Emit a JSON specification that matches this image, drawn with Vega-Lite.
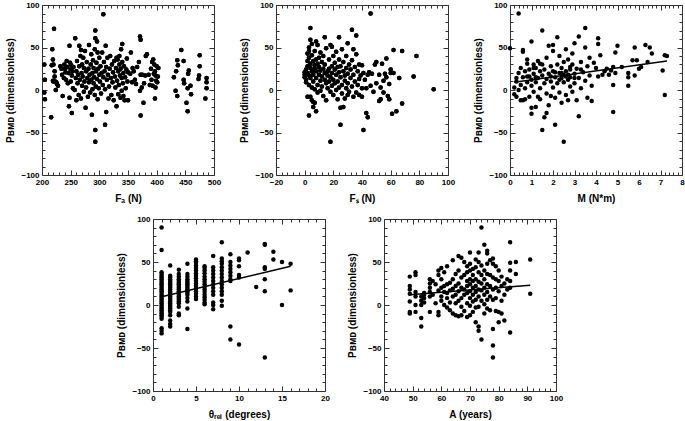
{
"$schema":"https://vega.github.io/schema/vega-lite/v6.json",
"padding":{"left":5,"top":0,"right":1,"bottom":2},
"config":{
 "font":"Liberation Sans",
 "view":{"stroke":"#333","strokeWidth":1},
 "axis":{"domain":false,"grid":false,"labelFont":"Liberation Sans","labelFontWeight":"bold","labelFontSize":8,"labelColor":"black","labelFlush":false,"labelOverlap":false,"labelPadding":8,"tickColor":"#333","tickWidth":1,"titleFont":"Liberation Sans","titleFontWeight":"bold","titleFontSize":10,"titleColor":"black","titlePadding":5}
},
"datasets":{
"p1":[{"x":204,"y":30},{"x":205,"y":12},{"x":204,"y":-3},{"x":205,"y":-11},{"x":216,"y":-32},{"x":217,"y":29},{"x":218,"y":48},{"x":219,"y":36},{"x":220,"y":30},{"x":221,"y":72},{"x":220,"y":10},{"x":222,"y":22},{"x":223,"y":10},{"x":224,"y":0},{"x":225,"y":9},{"x":226,"y":7},{"x":228,"y":5},{"x":222,"y":16},{"x":219,"y":11},
{"x":232,"y":28},{"x":234,"y":25},{"x":235,"y":18},{"x":236,"y":-7},{"x":238,"y":14},{"x":239,"y":30},{"x":240,"y":25},{"x":241,"y":21},{"x":242,"y":12},{"x":243,"y":34},{"x":244,"y":27},{"x":245,"y":8},{"x":246,"y":20},{"x":247,"y":-19},{"x":248,"y":-9},{"x":248,"y":52},{"x":249,"y":32},{"x":250,"y":24},{"x":250,"y":10},{"x":251,"y":29},{"x":252,"y":-27},{"x":252,"y":17},{"x":253,"y":22},{"x":254,"y":2},{"x":255,"y":27},
{"x":257,"y":0},{"x":258,"y":61},{"x":259,"y":14},{"x":260,"y":22},{"x":260,"y":-12},{"x":261,"y":34},{"x":262,"y":8},{"x":263,"y":18},{"x":264,"y":-6},{"x":265,"y":52},{"x":265,"y":28},{"x":266,"y":12},{"x":267,"y":40},{"x":268,"y":-10},{"x":268,"y":47},{"x":269,"y":20},{"x":270,"y":5},{"x":270,"y":30},{"x":271,"y":16},{"x":272,"y":38},{"x":273,"y":-2},{"x":273,"y":26},{"x":274,"y":10},{"x":275,"y":46},{"x":276,"y":-21},{"x":277,"y":22},{"x":277,"y":3},{"x":278,"y":33},{"x":279,"y":14},{"x":280,"y":-8},{"x":281,"y":25},{"x":282,"y":9},{"x":282,"y":53},{"x":283,"y":18},{"x":284,"y":-3},{"x":285,"y":30},{"x":286,"y":12},{"x":286,"y":42},{"x":287,"y":-29},{"x":288,"y":20},{"x":288,"y":1},{"x":289,"y":35},{"x":290,"y":8},{"x":290,"y":26},{"x":291,"y":15},{"x":292,"y":48},{"x":292,"y":-6},{"x":293,"y":70},{"x":293,"y":61},{"x":293,"y":-47},{"x":293,"y":-61},{"x":294,"y":22},{"x":294,"y":4},{"x":295,"y":32},{"x":296,"y":57},{"x":296,"y":13},{"x":297,"y":44},{"x":297,"y":-11},{"x":298,"y":25},{"x":299,"y":2},{"x":300,"y":18},{"x":300,"y":38},
{"x":301,"y":10},{"x":302,"y":28},{"x":303,"y":-4},{"x":304,"y":20},{"x":305,"y":44},{"x":306,"y":6},{"x":307,"y":89},{"x":307,"y":15},{"x":308,"y":33},{"x":309,"y":22},{"x":310,"y":-41},{"x":310,"y":1},{"x":311,"y":52},{"x":312,"y":-26},{"x":312,"y":27},{"x":313,"y":12},{"x":314,"y":38},{"x":315,"y":18},{"x":316,"y":-10},{"x":317,"y":4},{"x":318,"y":25},{"x":319,"y":40},{"x":320,"y":14},{"x":321,"y":-6},{"x":322,"y":30},{"x":323,"y":9},{"x":324,"y":21},{"x":325,"y":-12},{"x":326,"y":34},{"x":327,"y":16},{"x":328,"y":3},{"x":329,"y":26},{"x":330,"y":38},{"x":330,"y":-19},{"x":331,"y":11},{"x":332,"y":36},{"x":333,"y":22},{"x":333,"y":-5},{"x":334,"y":6},{"x":335,"y":30},{"x":335,"y":40},{"x":336,"y":17},{"x":337,"y":-9},{"x":337,"y":25},{"x":338,"y":48},{"x":339,"y":14},{"x":339,"y":-1},{"x":340,"y":54},{"x":340,"y":33},{"x":341,"y":8},{"x":342,"y":20},{"x":342,"y":-7},{"x":343,"y":28},{"x":344,"y":-12},{"x":345,"y":15},{"x":346,"y":2},{"x":347,"y":24},{"x":348,"y":37},{"x":349,"y":10},{"x":350,"y":-12},{"x":350,"y":21},
{"x":354,"y":19},{"x":355,"y":44},{"x":357,"y":9},{"x":358,"y":26},{"x":360,"y":22},{"x":362,"y":12},{"x":364,"y":7},{"x":366,"y":27},{"x":369,"y":33},{"x":371,"y":-1},{"x":371,"y":63},{"x":372,"y":59},{"x":372,"y":-30},{"x":372,"y":18},{"x":374,"y":3},{"x":375,"y":18},{"x":377,"y":-15},{"x":378,"y":8},{"x":380,"y":17},{"x":381,"y":40},{"x":383,"y":42},{"x":386,"y":18},{"x":388,"y":6},{"x":390,"y":25},{"x":391,"y":12},{"x":392,"y":33},{"x":393,"y":5},{"x":394,"y":36},{"x":395,"y":19},{"x":396,"y":30},{"x":397,"y":-10},{"x":397,"y":22},{"x":398,"y":17},{"x":398,"y":3},{"x":399,"y":11},{"x":400,"y":28},{"x":401,"y":9},{"x":402,"y":16},{"x":403,"y":26},
{"x":430,"y":15},{"x":433,"y":-1},{"x":434,"y":22},{"x":436,"y":35},{"x":436,"y":-7},{"x":437,"y":29},{"x":443,"y":47},{"x":447,"y":34},{"x":447,"y":12},{"x":448,"y":8},{"x":452,"y":-15},{"x":454,"y":-25},{"x":454,"y":2},{"x":455,"y":19},{"x":456,"y":23},{"x":459,"y":5},{"x":460,"y":-5},{"x":473,"y":13},{"x":474,"y":17},{"x":475,"y":28},{"x":475,"y":41},{"x":485,"y":-10},{"x":487,"y":14},{"x":487,"y":9},{"x":487,"y":2}],
"p2":[{"x":0,"y":18},{"x":0,"y":15},{"x":0,"y":21},{"x":1,"y":12},{"x":1,"y":24},{"x":1,"y":9},{"x":2,"y":20},{"x":2,"y":28},{"x":2,"y":34},{"x":2,"y":-8},{"x":2,"y":43},{"x":3,"y":46},{"x":3,"y":50},{"x":3,"y":6},{"x":3,"y":-30},{"x":3,"y":17},{"x":3,"y":38},{"x":4,"y":59},{"x":4,"y":73},{"x":4,"y":26},{"x":4,"y":14},{"x":4,"y":-8},{"x":4,"y":31},{"x":5,"y":-12},{"x":5,"y":54},{"x":5,"y":22},{"x":5,"y":3},{"x":5,"y":41},{"x":6,"y":-14},{"x":6,"y":-20},{"x":6,"y":10},{"x":6,"y":34},{"x":6,"y":18},{"x":7,"y":-15},{"x":7,"y":29},{"x":7,"y":46},{"x":7,"y":25},{"x":7,"y":1},{"x":8,"y":57},{"x":8,"y":-25},{"x":8,"y":36},{"x":8,"y":14},{"x":8,"y":22},{"x":9,"y":53},{"x":9,"y":6},{"x":9,"y":31},{"x":9,"y":-3},{"x":10,"y":38},{"x":10,"y":18},{"x":10,"y":27},{"x":11,"y":11},{"x":11,"y":44},{"x":11,"y":-1},{"x":11,"y":23},{"x":12,"y":33},{"x":12,"y":4},{"x":12,"y":16},{"x":13,"y":40},{"x":13,"y":25},{"x":13,"y":-7},{"x":14,"y":62},{"x":14,"y":12},{"x":14,"y":20},{"x":14,"y":30},{"x":15,"y":8},{"x":15,"y":49},{"x":15,"y":-12},{"x":16,"y":22},{"x":16,"y":2},{"x":16,"y":17},{"x":17,"y":36},{"x":17,"y":10},{"x":17,"y":25},{"x":18,"y":53},{"x":18,"y":-2},{"x":18,"y":15},{"x":18,"y":-61},{"x":19,"y":51},{"x":19,"y":28},{"x":19,"y":5},{"x":19,"y":20},{"x":20,"y":12},{"x":20,"y":40},{"x":20,"y":-6},{"x":21,"y":24},{"x":21,"y":8},{"x":21,"y":32},{"x":22,"y":0},{"x":22,"y":18},{"x":22,"y":45},{"x":23,"y":27},{"x":23,"y":-11},{"x":23,"y":10},{"x":24,"y":62},{"x":24,"y":21},{"x":24,"y":36},{"x":24,"y":3},{"x":25,"y":-41},{"x":25,"y":-21},{"x":25,"y":15},{"x":25,"y":28},{"x":26,"y":48},{"x":26,"y":6},{"x":26,"y":-4},{"x":27,"y":-20},{"x":27,"y":22},{"x":27,"y":33},{"x":28,"y":11},{"x":28,"y":-10},{"x":28,"y":17},{"x":29,"y":26},{"x":29,"y":2},{"x":29,"y":40},{"x":30,"y":55},{"x":30,"y":8},{"x":30,"y":-6},{"x":30,"y":19},{"x":31,"y":30},{"x":31,"y":-2},{"x":32,"y":14},{"x":32,"y":24},{"x":33,"y":71},{"x":33,"y":4},{"x":33,"y":35},{"x":34,"y":48},{"x":34,"y":-8},{"x":34,"y":18},{"x":35,"y":27},{"x":35,"y":10},{"x":36,"y":64},{"x":36,"y":-3},{"x":36,"y":42},{"x":37,"y":22},{"x":37,"y":6},{"x":38,"y":-6},{"x":38,"y":30},{"x":38,"y":13},{"x":39,"y":17},{"x":40,"y":29},{"x":40,"y":-8},{"x":40,"y":2},{"x":41,"y":-47},{"x":41,"y":20},{"x":42,"y":12},{"x":43,"y":-27},{"x":43,"y":2},{"x":44,"y":-32},{"x":44,"y":18},{"x":45,"y":21},{"x":46,"y":90},{"x":46,"y":5},{"x":47,"y":19},{"x":48,"y":-2},{"x":49,"y":30},{"x":50,"y":33},{"x":50,"y":8},{"x":52,"y":-13},{"x":52,"y":18},{"x":53,"y":3},{"x":53,"y":-11},{"x":54,"y":31},{"x":55,"y":11},{"x":55,"y":-3},{"x":56,"y":19},{"x":57,"y":37},{"x":57,"y":15},{"x":58,"y":-7},{"x":59,"y":7},{"x":59,"y":-11},{"x":60,"y":24},{"x":60,"y":20},{"x":61,"y":-28},{"x":62,"y":47},{"x":62,"y":20},{"x":64,"y":-25},{"x":66,"y":14},{"x":68,"y":46},{"x":68,"y":-16},{"x":76,"y":16},{"x":78,"y":40},{"x":90,"y":1}],
"p3":[{"x":0.0,"y":49},{"x":0.2,"y":3},{"x":0.2,"y":-5},{"x":0.3,"y":10},{"x":0.3,"y":14},{"x":0.3,"y":-8},{"x":0.4,"y":90},{"x":0.4,"y":20},{"x":0.4,"y":0},{"x":0.5,"y":26},{"x":0.5,"y":-12},{"x":0.5,"y":6},{"x":0.6,"y":47},{"x":0.6,"y":45},{"x":0.6,"y":-12},{"x":0.6,"y":15},{"x":0.7,"y":22},{"x":0.7,"y":2},{"x":0.7,"y":-11},{"x":0.8,"y":36},{"x":0.8,"y":9},{"x":0.8,"y":31},{"x":0.8,"y":16},{"x":0.9,"y":-8},{"x":0.9,"y":16},{"x":0.9,"y":24},{"x":1.0,"y":57},{"x":1.0,"y":-21},{"x":1.0,"y":5},{"x":1.0,"y":12},{"x":1.0,"y":-28},{"x":1.1,"y":30},{"x":1.1,"y":19},{"x":1.1,"y":-2},{"x":1.1,"y":26},{"x":1.2,"y":-20},{"x":1.2,"y":9},{"x":1.2,"y":26},{"x":1.2,"y":15},{"x":1.3,"y":34},{"x":1.3,"y":14},{"x":1.3,"y":-8},{"x":1.4,"y":22},{"x":1.4,"y":2},{"x":1.4,"y":-11},{"x":1.4,"y":31},{"x":1.5,"y":70},{"x":1.5,"y":-47},{"x":1.5,"y":17},{"x":1.5,"y":30},{"x":1.6,"y":-32},{"x":1.6,"y":8},{"x":1.6,"y":24},{"x":1.7,"y":-27},{"x":1.7,"y":13},{"x":1.7,"y":38},{"x":1.7,"y":-4},{"x":1.8,"y":52},{"x":1.8,"y":19},{"x":1.8,"y":-18},{"x":1.9,"y":10},{"x":1.9,"y":28},{"x":1.9,"y":-7},{"x":1.9,"y":16},{"x":2.0,"y":53},{"x":2.0,"y":22},{"x":2.0,"y":3},{"x":2.0,"y":46},{"x":2.1,"y":-41},{"x":2.1,"y":15},{"x":2.1,"y":-9},{"x":2.1,"y":21},{"x":2.2,"y":62},{"x":2.2,"y":30},{"x":2.2,"y":8},{"x":2.3,"y":20},{"x":2.3,"y":-3},{"x":2.3,"y":40},{"x":2.3,"y":12},{"x":2.4,"y":14},{"x":2.4,"y":-15},{"x":2.4,"y":26},{"x":2.4,"y":20},{"x":2.5,"y":-61},{"x":2.5,"y":9},{"x":2.5,"y":33},{"x":2.5,"y":18},{"x":2.6,"y":48},{"x":2.6,"y":-6},{"x":2.6,"y":22},{"x":2.6,"y":16},{"x":2.7,"y":12},{"x":2.7,"y":-12},{"x":2.7,"y":36},{"x":2.7,"y":18},{"x":2.8,"y":24},{"x":2.8,"y":4},{"x":2.8,"y":15},{"x":2.8,"y":27},{"x":2.9,"y":30},{"x":2.9,"y":-2},{"x":2.9,"y":43},{"x":3.0,"y":55},{"x":3.0,"y":19},{"x":3.0,"y":8},{"x":3.0,"y":14},{"x":3.1,"y":-12},{"x":3.1,"y":25},{"x":3.2,"y":63},{"x":3.2,"y":-31},{"x":3.2,"y":14},{"x":3.3,"y":33},{"x":3.3,"y":2},{"x":3.3,"y":24},{"x":3.4,"y":21},{"x":3.5,"y":73},{"x":3.5,"y":50},{"x":3.5,"y":11},{"x":3.6,"y":28},{"x":3.6,"y":-9},{"x":3.7,"y":38},{"x":3.7,"y":17},{"x":3.8,"y":5},{"x":3.8,"y":-13},{"x":3.9,"y":32},{"x":4.0,"y":26},{"x":4.1,"y":61},{"x":4.1,"y":54},{"x":4.1,"y":16},{"x":4.2,"y":41},{"x":4.3,"y":18},{"x":4.4,"y":22},{"x":4.5,"y":25},{"x":4.6,"y":18},{"x":4.7,"y":23},{"x":4.8,"y":-26},{"x":4.8,"y":6},{"x":4.8,"y":27},{"x":4.9,"y":44},{"x":4.9,"y":20},{"x":5.0,"y":52},{"x":5.2,"y":27},{"x":5.5,"y":5},{"x":5.5,"y":15},{"x":5.5,"y":20},{"x":5.7,"y":35},{"x":5.8,"y":17},{"x":5.8,"y":50},{"x":5.9,"y":35},{"x":6.0,"y":25},{"x":6.1,"y":27},{"x":6.3,"y":53},{"x":6.4,"y":33},{"x":6.5,"y":50},{"x":6.6,"y":43},{"x":7.1,"y":23},{"x":7.2,"y":-6},{"x":7.2,"y":41},{"x":7.3,"y":40}],
"p4":[{"x":1,"y":90},{"x":1,"y":64},{"x":1,"y":38},{"x":1,"y":36},{"x":1,"y":34},{"x":1,"y":32},{"x":1,"y":30},{"x":1,"y":28},{"x":1,"y":26},{"x":1,"y":24},{"x":1,"y":22},{"x":1,"y":20},{"x":1,"y":18},{"x":1,"y":16},{"x":1,"y":14},{"x":1,"y":12},{"x":1,"y":10},{"x":1,"y":8},{"x":1,"y":6},{"x":1,"y":4},{"x":1,"y":2},{"x":1,"y":0},{"x":1,"y":-2},{"x":1,"y":-4},{"x":1,"y":-6},{"x":1,"y":-8},{"x":1,"y":-10},{"x":1,"y":-12},{"x":1,"y":-14},{"x":1,"y":-16},{"x":1,"y":-27},{"x":1,"y":-30},{"x":1,"y":-33},
{"x":2,"y":46},{"x":2,"y":34},{"x":2,"y":32},{"x":2,"y":30},{"x":2,"y":28},{"x":2,"y":26},{"x":2,"y":24},{"x":2,"y":22},{"x":2,"y":20},{"x":2,"y":18},{"x":2,"y":16},{"x":2,"y":14},{"x":2,"y":12},{"x":2,"y":10},{"x":2,"y":8},{"x":2,"y":6},{"x":2,"y":4},{"x":2,"y":2},{"x":2,"y":0},{"x":2,"y":-2},{"x":2,"y":-4},{"x":2,"y":-6},{"x":2,"y":-8},{"x":2,"y":-12},{"x":2,"y":-18},{"x":2,"y":-22},{"x":2,"y":-25},
{"x":3,"y":41},{"x":3,"y":36},{"x":3,"y":33},{"x":3,"y":30},{"x":3,"y":28},{"x":3,"y":26},{"x":3,"y":24},{"x":3,"y":22},{"x":3,"y":20},{"x":3,"y":18},{"x":3,"y":16},{"x":3,"y":14},{"x":3,"y":12},{"x":3,"y":10},{"x":3,"y":8},{"x":3,"y":6},{"x":3,"y":4},{"x":3,"y":2},{"x":3,"y":-2},{"x":3,"y":-10},{"x":3,"y":-12},
{"x":4,"y":48},{"x":4,"y":36},{"x":4,"y":33},{"x":4,"y":30},{"x":4,"y":28},{"x":4,"y":26},{"x":4,"y":24},{"x":4,"y":22},{"x":4,"y":20},{"x":4,"y":18},{"x":4,"y":16},{"x":4,"y":14},{"x":4,"y":12},{"x":4,"y":8},{"x":4,"y":4},{"x":4,"y":-4},{"x":4,"y":-28},
{"x":5,"y":53},{"x":5,"y":51},{"x":5,"y":49},{"x":5,"y":46},{"x":5,"y":43},{"x":5,"y":40},{"x":5,"y":37},{"x":5,"y":34},{"x":5,"y":31},{"x":5,"y":28},{"x":5,"y":25},{"x":5,"y":22},{"x":5,"y":19},{"x":5,"y":16},{"x":5,"y":13},{"x":5,"y":10},{"x":5,"y":7},
{"x":6,"y":45},{"x":6,"y":43},{"x":6,"y":40},{"x":6,"y":37},{"x":6,"y":33},{"x":6,"y":30},{"x":6,"y":27},{"x":6,"y":24},{"x":6,"y":21},{"x":6,"y":18},{"x":6,"y":15},{"x":6,"y":12},{"x":6,"y":9},{"x":6,"y":6},{"x":6,"y":3},{"x":6,"y":1},
{"x":7,"y":57},{"x":7,"y":44},{"x":7,"y":40},{"x":7,"y":36},{"x":7,"y":32},{"x":7,"y":28},{"x":7,"y":24},{"x":7,"y":20},{"x":7,"y":16},{"x":7,"y":12},{"x":7,"y":3},{"x":7,"y":0},{"x":7,"y":-5},
{"x":8,"y":73},{"x":8,"y":54},{"x":8,"y":51},{"x":8,"y":48},{"x":8,"y":44},{"x":8,"y":40},{"x":8,"y":36},{"x":8,"y":32},{"x":8,"y":28},{"x":8,"y":24},{"x":8,"y":20},{"x":8,"y":16},{"x":8,"y":12},{"x":8,"y":5},{"x":8,"y":-1},
{"x":9,"y":59},{"x":9,"y":50},{"x":9,"y":46},{"x":9,"y":42},{"x":9,"y":38},{"x":9,"y":34},{"x":9,"y":30},{"x":9,"y":28},{"x":9,"y":-25},{"x":9,"y":-40},
{"x":10,"y":54},{"x":10,"y":52},{"x":10,"y":45},{"x":10,"y":35},{"x":10,"y":32},{"x":10,"y":-46},{"x":11,"y":61},{"x":12,"y":21},
{"x":13,"y":71},{"x":13,"y":70},{"x":13,"y":44},{"x":13,"y":42},{"x":13,"y":30},{"x":13,"y":16},{"x":13,"y":-61},{"x":14,"y":62},{"x":14,"y":53},{"x":15,"y":50},{"x":15,"y":0},{"x":16,"y":48},{"x":16,"y":17}],
"p5":[{"x":49,"y":33},{"x":49,"y":22},{"x":49,"y":18},{"x":49,"y":13},{"x":49,"y":4},{"x":49,"y":-8},{"x":49,"y":-10},{"x":51,"y":38},{"x":51,"y":35},{"x":51,"y":15},{"x":51,"y":10},{"x":51,"y":0},{"x":51,"y":-8},{"x":53,"y":10},{"x":53,"y":5},{"x":53,"y":-15},{"x":53,"y":-25},{"x":53,"y":0},{"x":54,"y":14},{"x":54,"y":8},{"x":54,"y":12},{"x":54,"y":3},{"x":56,"y":30},{"x":56,"y":25},{"x":56,"y":20},{"x":56,"y":15},{"x":56,"y":10},{"x":56,"y":-8},{"x":57,"y":28},{"x":57,"y":12},{"x":58,"y":24},{"x":58,"y":2},{"x":59,"y":40},{"x":59,"y":35},{"x":59,"y":17},{"x":59,"y":-8},{"x":59,"y":-12},{"x":60,"y":43},{"x":60,"y":30},{"x":60,"y":20},{"x":60,"y":10},{"x":60,"y":5},{"x":61,"y":38},{"x":61,"y":22},{"x":61,"y":15},{"x":61,"y":0},{"x":62,"y":45},{"x":62,"y":24},{"x":62,"y":14},{"x":62,"y":8},{"x":62,"y":-3},{"x":63,"y":26},{"x":63,"y":17},{"x":63,"y":3},{"x":63,"y":-6},{"x":64,"y":52},{"x":64,"y":30},{"x":64,"y":19},{"x":64,"y":10},{"x":64,"y":-10},{"x":65,"y":36},{"x":65,"y":22},{"x":65,"y":12},{"x":65,"y":2},{"x":65,"y":-12},{"x":66,"y":57},{"x":66,"y":40},{"x":66,"y":25},{"x":66,"y":16},{"x":66,"y":5},{"x":66,"y":-13},{"x":67,"y":55},{"x":67,"y":32},{"x":67,"y":20},{"x":67,"y":8},{"x":67,"y":-2},{"x":67,"y":-12},{"x":68,"y":50},{"x":68,"y":35},{"x":68,"y":18},{"x":68,"y":12},{"x":68,"y":-7},{"x":69,"y":45},{"x":69,"y":38},{"x":69,"y":28},{"x":69,"y":22},{"x":69,"y":14},{"x":69,"y":2},{"x":69,"y":-14},{"x":70,"y":61},{"x":70,"y":48},{"x":70,"y":40},{"x":70,"y":30},{"x":70,"y":24},{"x":70,"y":16},{"x":70,"y":8},{"x":70,"y":-1},{"x":70,"y":-12},{"x":71,"y":42},{"x":71,"y":35},{"x":71,"y":28},{"x":71,"y":20},{"x":71,"y":12},{"x":71,"y":4},{"x":71,"y":-8},{"x":72,"y":53},{"x":72,"y":44},{"x":72,"y":30},{"x":72,"y":22},{"x":72,"y":15},{"x":72,"y":6},{"x":72,"y":-3},{"x":72,"y":-20},{"x":73,"y":61},{"x":73,"y":50},{"x":73,"y":38},{"x":73,"y":27},{"x":73,"y":18},{"x":73,"y":10},{"x":73,"y":-2},{"x":73,"y":-25},{"x":73,"y":-30},{"x":74,"y":90},{"x":74,"y":46},{"x":74,"y":35},{"x":74,"y":25},{"x":74,"y":17},{"x":74,"y":5},{"x":74,"y":-40},{"x":75,"y":70},{"x":75,"y":40},{"x":75,"y":30},{"x":75,"y":20},{"x":75,"y":12},{"x":75,"y":1},{"x":75,"y":-10},{"x":76,"y":63},{"x":76,"y":60},{"x":76,"y":48},{"x":76,"y":36},{"x":76,"y":24},{"x":76,"y":15},{"x":76,"y":6},{"x":76,"y":-4},{"x":77,"y":52},{"x":77,"y":35},{"x":77,"y":22},{"x":77,"y":10},{"x":77,"y":-6},{"x":78,"y":54},{"x":78,"y":48},{"x":78,"y":32},{"x":78,"y":18},{"x":78,"y":6},{"x":78,"y":-28},{"x":78,"y":-47},{"x":78,"y":-61},{"x":79,"y":45},{"x":79,"y":30},{"x":79,"y":20},{"x":79,"y":8},{"x":79,"y":-7},{"x":80,"y":40},{"x":80,"y":28},{"x":80,"y":16},{"x":80,"y":-8},{"x":80,"y":-20},{"x":81,"y":33},{"x":81,"y":22},{"x":81,"y":5},{"x":81,"y":-10},{"x":82,"y":25},{"x":82,"y":12},{"x":82,"y":-18},{"x":83,"y":30},{"x":83,"y":18},{"x":84,"y":73},{"x":84,"y":49},{"x":84,"y":40},{"x":84,"y":28},{"x":84,"y":20},{"x":84,"y":-32},{"x":86,"y":50},{"x":86,"y":36},{"x":91,"y":53},{"x":91,"y":13}],
"l3":[{"x":0.2,"y":9},{"x":7.3,"y":34}],
"l4":[{"x":1,"y":9.5},{"x":16,"y":45}],
"l5":[{"x":49,"y":12},{"x":91,"y":23}]
},
"vconcat":[
{"hconcat":[
 {"width":172,"height":170,"resolve":{"axis":{"x":"independent","y":"independent"}},"layer":[
  {"data":{"name":"p1"},"mark":{"type":"circle","size":20,"color":"black","opacity":1},
  "encoding":{
   "x":{"field":"x","type":"quantitative","title":"Fₐ (N)","scale":{"domain":[200,500],"nice":false,"zero":false},"axis":{"values":[200,210,220,230,240,250,260,270,280,290,300,310,320,330,340,350,360,370,380,390,400,410,420,430,440,450,460,470,480,490,500],"labelExpr":"datum.value % 50 === 0 ? datum.label : ''","tickSize":{"condition":{"test":"datum.value % 50 === 0","value":-5},"value":-3}}},
   "y":{"field":"y","type":"quantitative","title":"Pʙᴍᴅ (dimensionless)","scale":{"domain":[-100,100],"nice":false},"axis":{"values":[-100,-90,-80,-70,-60,-50,-40,-30,-20,-10,0,10,20,30,40,50,60,70,80,90,100],"labelExpr":"datum.value % 50 === 0 ? datum.label : ''","tickSize":{"condition":{"test":"datum.value % 50 === 0","value":-5},"value":-3}}}}},
  {"data":{"name":"p1"},"mark":{"type":"circle","size":20,"color":"black","opacity":1},
  "encoding":{
   "x":{"field":"x","type":"quantitative","scale":{"domain":[200,500],"nice":false,"zero":false},"axis":{"orient":"top","title":null,"labels":false,"values":[200,210,220,230,240,250,260,270,280,290,300,310,320,330,340,350,360,370,380,390,400,410,420,430,440,450,460,470,480,490,500],"tickSize":{"condition":{"test":"datum.value % 50 === 0","value":-5},"value":-3}}},
   "y":{"field":"y","type":"quantitative","scale":{"domain":[-100,100],"nice":false},"axis":{"orient":"right","title":null,"labels":false,"values":[-100,-90,-80,-70,-60,-50,-40,-30,-20,-10,0,10,20,30,40,50,60,70,80,90,100],"tickSize":{"condition":{"test":"datum.value % 50 === 0","value":-5},"value":-3}}}}}
 ]},
 {"width":172,"height":170,"resolve":{"axis":{"x":"independent","y":"independent"}},"layer":[
  {"data":{"name":"p2"},"mark":{"type":"circle","size":20,"color":"black","opacity":1},
  "encoding":{
   "x":{"field":"x","type":"quantitative","title":"Fₛ (N)","scale":{"domain":[-20,100],"nice":false,"zero":false},"axis":{"values":[-20,-16,-12,-8,-4,0,4,8,12,16,20,24,28,32,36,40,44,48,52,56,60,64,68,72,76,80,84,88,92,96,100],"labelExpr":"datum.value % 20 === 0 ? datum.label : ''","tickSize":{"condition":{"test":"datum.value % 20 === 0","value":-5},"value":-3}}},
   "y":{"field":"y","type":"quantitative","title":"Pʙᴍᴅ (dimensionless)","scale":{"domain":[-100,100],"nice":false},"axis":{"values":[-100,-90,-80,-70,-60,-50,-40,-30,-20,-10,0,10,20,30,40,50,60,70,80,90,100],"labelExpr":"datum.value % 50 === 0 ? datum.label : ''","tickSize":{"condition":{"test":"datum.value % 50 === 0","value":-5},"value":-3}}}}},
  {"data":{"name":"p2"},"mark":{"type":"circle","size":20,"color":"black","opacity":1},
  "encoding":{
   "x":{"field":"x","type":"quantitative","scale":{"domain":[-20,100],"nice":false,"zero":false},"axis":{"orient":"top","title":null,"labels":false,"values":[-20,-16,-12,-8,-4,0,4,8,12,16,20,24,28,32,36,40,44,48,52,56,60,64,68,72,76,80,84,88,92,96,100],"tickSize":{"condition":{"test":"datum.value % 20 === 0","value":-5},"value":-3}}},
   "y":{"field":"y","type":"quantitative","scale":{"domain":[-100,100],"nice":false},"axis":{"orient":"right","title":null,"labels":false,"values":[-100,-90,-80,-70,-60,-50,-40,-30,-20,-10,0,10,20,30,40,50,60,70,80,90,100],"tickSize":{"condition":{"test":"datum.value % 50 === 0","value":-5},"value":-3}}}}}
 ]},
 {"width":172,"height":170,"resolve":{"axis":{"x":"independent","y":"independent"}},"layer":[
  {"data":{"name":"p3"},"mark":{"type":"circle","size":20,"color":"black","opacity":1},
  "encoding":{
   "x":{"field":"x","type":"quantitative","title":"M (N*m)","scale":{"domain":[0,8],"nice":false,"zero":false},"axis":{"values":[0,0.2,0.4,0.6,0.8,1,1.2,1.4,1.6,1.8,2,2.2,2.4,2.6,2.8,3,3.2,3.4,3.6,3.8,4,4.2,4.4,4.6,4.8,5,5.2,5.4,5.6,5.8,6,6.2,6.4,6.6,6.8,7,7.2,7.4,7.6,7.8,8],"labelExpr":"abs(datum.value - round(datum.value)) < 0.01 ? '' + round(datum.value) : ''","tickSize":{"condition":{"test":"abs(datum.value - round(datum.value)) < 0.01","value":-5},"value":-3}}},
   "y":{"field":"y","type":"quantitative","title":"Pʙᴍᴅ (dimensionless)","scale":{"domain":[-100,100],"nice":false},"axis":{"values":[-100,-90,-80,-70,-60,-50,-40,-30,-20,-10,0,10,20,30,40,50,60,70,80,90,100],"labelExpr":"datum.value % 50 === 0 ? datum.label : ''","tickSize":{"condition":{"test":"datum.value % 50 === 0","value":-5},"value":-3}}}}},
  {"data":{"name":"l3"},"mark":{"type":"line","color":"black","strokeWidth":1.5},
   "encoding":{
   "x":{"field":"x","type":"quantitative","scale":{"domain":[0,8],"nice":false,"zero":false},"axis":{"orient":"top","title":null,"labels":false,"values":[0,0.2,0.4,0.6,0.8,1,1.2,1.4,1.6,1.8,2,2.2,2.4,2.6,2.8,3,3.2,3.4,3.6,3.8,4,4.2,4.4,4.6,4.8,5,5.2,5.4,5.6,5.8,6,6.2,6.4,6.6,6.8,7,7.2,7.4,7.6,7.8,8],"tickSize":{"condition":{"test":"abs(datum.value - round(datum.value)) < 0.01","value":-5},"value":-3}}},
   "y":{"field":"y","type":"quantitative","scale":{"domain":[-100,100],"nice":false},"axis":{"orient":"right","title":null,"labels":false,"values":[-100,-90,-80,-70,-60,-50,-40,-30,-20,-10,0,10,20,30,40,50,60,70,80,90,100],"tickSize":{"condition":{"test":"datum.value % 50 === 0","value":-5},"value":-3}}}}}
 ]}
],"spacing":62,"bounds":"flush"},
{"hconcat":[
 {"width":52,"height":172,"view":{"stroke":null},"data":{"values":[{"a":1}]},"mark":{"type":"point","opacity":0}},
 {"width":172,"height":172,"resolve":{"axis":{"x":"independent","y":"independent"}},"layer":[
  {"data":{"name":"p4"},"mark":{"type":"circle","size":20,"color":"black","opacity":1},
  "encoding":{
   "x":{"field":"x","type":"quantitative","title":"θᵣₑₗ  (degrees)","scale":{"domain":[0,20],"nice":false,"zero":false},"axis":{"values":[0,1,2,3,4,5,6,7,8,9,10,11,12,13,14,15,16,17,18,19,20],"labelExpr":"datum.value % 5 === 0 ? datum.label : ''","tickSize":{"condition":{"test":"datum.value % 5 === 0","value":-5},"value":-3}}},
   "y":{"field":"y","type":"quantitative","title":"Pʙᴍᴅ (dimensionless)","scale":{"domain":[-100,100],"nice":false},"axis":{"values":[-100,-90,-80,-70,-60,-50,-40,-30,-20,-10,0,10,20,30,40,50,60,70,80,90,100],"labelExpr":"datum.value % 50 === 0 ? datum.label : ''","tickSize":{"condition":{"test":"datum.value % 50 === 0","value":-5},"value":-3}}}}},
  {"data":{"name":"l4"},"mark":{"type":"line","color":"black","strokeWidth":1.5},
   "encoding":{
   "x":{"field":"x","type":"quantitative","scale":{"domain":[0,20],"nice":false,"zero":false},"axis":{"orient":"top","title":null,"labels":false,"values":[0,1,2,3,4,5,6,7,8,9,10,11,12,13,14,15,16,17,18,19,20],"tickSize":{"condition":{"test":"datum.value % 5 === 0","value":-5},"value":-3}}},
   "y":{"field":"y","type":"quantitative","scale":{"domain":[-100,100],"nice":false},"axis":{"orient":"right","title":null,"labels":false,"values":[-100,-90,-80,-70,-60,-50,-40,-30,-20,-10,0,10,20,30,40,50,60,70,80,90,100],"tickSize":{"condition":{"test":"datum.value % 50 === 0","value":-5},"value":-3}}}}}
 ]},
 {"width":172,"height":172,"resolve":{"axis":{"x":"independent","y":"independent"}},"layer":[
  {"data":{"name":"p5"},"mark":{"type":"circle","size":20,"color":"black","opacity":1},
  "encoding":{
   "x":{"field":"x","type":"quantitative","title":"A (years)","scale":{"domain":[40,100],"nice":false,"zero":false},"axis":{"values":[40,42,44,46,48,50,52,54,56,58,60,62,64,66,68,70,72,74,76,78,80,82,84,86,88,90,92,94,96,98,100],"labelExpr":"datum.value % 10 === 0 ? datum.label : ''","tickSize":{"condition":{"test":"datum.value % 10 === 0","value":-5},"value":-3}}},
   "y":{"field":"y","type":"quantitative","title":"Pʙᴍᴅ (dimensionless)","scale":{"domain":[-100,100],"nice":false},"axis":{"values":[-100,-90,-80,-70,-60,-50,-40,-30,-20,-10,0,10,20,30,40,50,60,70,80,90,100],"labelExpr":"datum.value % 50 === 0 ? datum.label : ''","tickSize":{"condition":{"test":"datum.value % 50 === 0","value":-5},"value":-3}}}}},
  {"data":{"name":"l5"},"mark":{"type":"line","color":"black","strokeWidth":1.5},
   "encoding":{
   "x":{"field":"x","type":"quantitative","scale":{"domain":[40,100],"nice":false,"zero":false},"axis":{"orient":"top","title":null,"labels":false,"values":[40,42,44,46,48,50,52,54,56,58,60,62,64,66,68,70,72,74,76,78,80,82,84,86,88,90,92,94,96,98,100],"tickSize":{"condition":{"test":"datum.value % 10 === 0","value":-5},"value":-3}}},
   "y":{"field":"y","type":"quantitative","scale":{"domain":[-100,100],"nice":false},"axis":{"orient":"right","title":null,"labels":false,"values":[-100,-90,-80,-70,-60,-50,-40,-30,-20,-10,0,10,20,30,40,50,60,70,80,90,100],"tickSize":{"condition":{"test":"datum.value % 50 === 0","value":-5},"value":-3}}}}}
 ]}
],"spacing":59,"bounds":"flush"}
],
"spacing":10
}
